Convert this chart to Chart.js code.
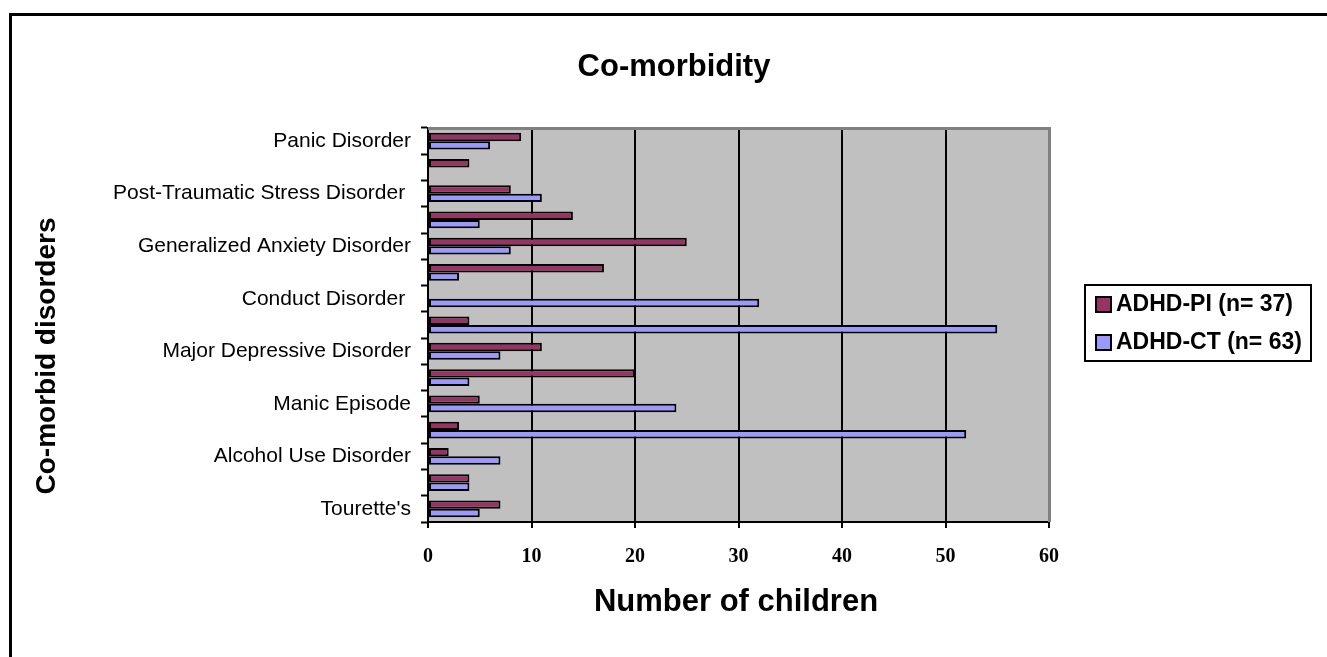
<!DOCTYPE html>
<html>
<head>
<meta charset="utf-8">
<title>Co-morbidity</title>
<script src="https://cdn.jsdelivr.net/npm/chart.js@4.4.1/dist/chart.umd.min.js"></script>
<style>
  body { margin: 0; background: #ffffff; }
  #wrap { width: 1327px; height: 657px; }
</style>
</head>
<body>
<div id="wrap"><canvas id="comorbidChart" width="1327" height="657"></canvas></div>
<script>
// Data (top row first)
const categories = [
    'Panic Disorder', '', 'Post-Traumatic Stress Disorder ', '',
    'Generalized Anxiety Disorder', '', 'Conduct Disorder ', '',
    'Major Depressive Disorder', '', 'Manic Episode', '',
    'Alcohol Use Disorder', '', "Tourette's"
];
const adhdPI = [9, 4, 8, 14, 25, 17, 0, 4, 11, 20, 5, 3, 2, 4, 7];
const adhdCT = [6, 0, 11, 5, 8, 3, 32, 55, 7, 4, 24, 52, 7, 4, 5];
const seriesNames = ['ADHD-PI (n= 37)', 'ADHD-CT (n= 63)'];
const xTicks = [0, 10, 20, 30, 40, 50, 60];

const sans = '"Liberation Sans", Arial, sans-serif';
const serif = '"Liberation Serif", "Times New Roman", serif';

// plot background, outer frame, titles and legend box
const decorPlugin = {
    id: 'decor',
    beforeDraw(chart) {
        const { ctx, chartArea: a } = chart;
        ctx.save();
        ctx.fillStyle = '#c0c0c0';
        ctx.fillRect(a.left, a.top, a.right - a.left, a.bottom - a.top);
        ctx.restore();
    },
    afterDraw(chart) {
        const { ctx, chartArea: a } = chart;
        ctx.save();
        // grey top / right edge of plot area
        ctx.strokeStyle = '#808080';
        ctx.lineWidth = 3;
        ctx.beginPath();
        ctx.moveTo(a.left, a.top + 0.5);
        ctx.lineTo(a.right + 0.5, a.top + 0.5);
        ctx.lineTo(a.right + 0.5, a.bottom);
        ctx.stroke();

        // outer frame
        ctx.strokeStyle = '#000000';
        ctx.lineWidth = 3;
        ctx.strokeRect(10.5, 14.5, 1400, 700);

        // titles
        ctx.fillStyle = '#000000';
        ctx.textAlign = 'center';
        ctx.textBaseline = 'alphabetic';
        ctx.font = 'bold 31px ' + sans;
        ctx.fillText('Co-morbidity', 674, 76);
        ctx.fillText('Number of children', 736, 611);

        ctx.save();
        ctx.translate(55, 356);
        ctx.rotate(-Math.PI / 2);
        ctx.font = 'bold 28px ' + sans;
        ctx.fillText('Co-morbid disorders', 0, 0);
        ctx.restore();

        // legend
        ctx.lineWidth = 2;
        ctx.strokeStyle = '#000000';
        ctx.strokeRect(1085, 285, 226, 76);
        ctx.font = 'bold 23px ' + sans;
        ctx.textAlign = 'left';
        ctx.textBaseline = 'middle';
        chart.data.datasets.forEach((ds, i) => {
            const cy = 304 + i * 38;
            ctx.fillStyle = ds.backgroundColor;
            ctx.fillRect(1096, cy - 7, 15, 15);
            ctx.lineWidth = 2;
            ctx.strokeRect(1096, cy - 7, 15, 15);
            ctx.fillStyle = '#000000';
            ctx.fillText(ds.label, 1116, cy + 1);
        });
        ctx.restore();
    }
};

const ctx = document.getElementById('comorbidChart').getContext('2d');
const chart = new Chart(ctx, {
    type: 'bar',
    data: {
        labels: categories,
        datasets: [
            {
                label: seriesNames[0],
                data: adhdPI,
                backgroundColor: '#993366',
                borderColor: '#000000',
                borderWidth: 2,
                borderSkipped: false
            },
            {
                label: seriesNames[1],
                data: adhdCT,
                backgroundColor: '#9999ff',
                borderColor: '#000000',
                borderWidth: 2,
                borderSkipped: false
            }
        ]
    },
    options: {
        indexAxis: 'y',
        responsive: false,
        animation: false,
        categoryPercentage: 0.64,
        barPercentage: 1.0,
        layout: {
            padding: { left: 0, right: 278, top: 128, bottom: 75 }
        },
        scales: {
            x: {
                min: 0,
                max: 60,
                afterBuildTicks: (scale) => {
                    scale.ticks = xTicks.map(v => ({ value: v }));
                },
                afterFit: (scale) => { scale.height = 60; },
                grid: {
                    color: '#000000',
                    lineWidth: 2,
                    tickLength: 6,
                    tickColor: '#000000',
                    tickWidth: 2
                },
                border: { color: '#000000', width: 2 },
                ticks: {
                    color: '#000000',
                    padding: 17,
                    font: { family: serif, size: 20, weight: 'bold' }
                }
            },
            y: {
                afterFit: (scale) => { scale.width = 428; },
                grid: {
                    offset: true,
                    drawOnChartArea: false,
                    tickLength: 7,
                    tickColor: '#000000',
                    tickWidth: 2
                },
                border: { color: '#000000', width: 2 },
                ticks: {
                    autoSkip: false,
                    color: '#000000',
                    padding: 10,
                    font: { family: sans, size: 21 }
                }
            }
        },
        plugins: {
            legend: { display: false },
            title: { display: false },
            tooltip: { enabled: false }
        }
    },
    plugins: [decorPlugin]
});
</script>
</body>
</html>
